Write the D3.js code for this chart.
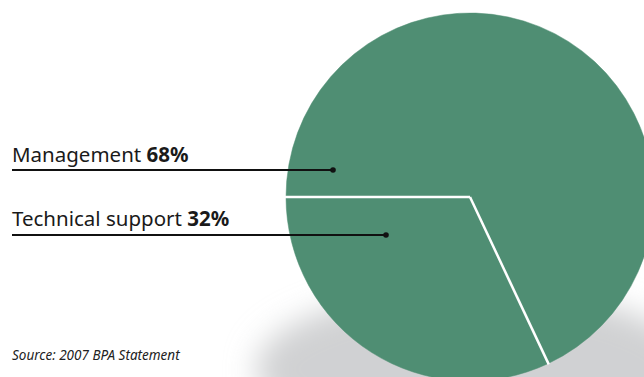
<!DOCTYPE html>
<html>
<head>
<meta charset="utf-8">
<script src="https://cdn.jsdelivr.net/npm/d3@7"></script>
<style>
  body { margin: 0; background: #fff; }
  svg { display: block; font-family: "Noto Sans", Lato, sans-serif; }
</style>
</head>
<body>
<div id="chart"></div>
<script>
const categories = ["Management", "Technical support"];
const shares = [68, 32];
const source = "Source: 2007 BPA Statement";

const width = 644,
    height = 377,
    cx = 470,
    cy = 197,
    radius = 184;

// label layout: text baseline, leader line y and leader end x
const labelLayout = [
  { y: 162, lineY: 170, endX: 333 },
  { y: 226, lineY: 235, endX: 386 }
];

const svg = d3.select("#chart").append("svg")
    .attr("width", width)
    .attr("height", height);

const defs = svg.append("defs");
defs.append("filter")
    .attr("id", "soft")
    .attr("x", "-50%").attr("y", "-50%")
    .attr("width", "200%").attr("height", "200%")
  .append("feGaussianBlur")
    .attr("stdDeviation", 15);

// shadow under the pie
svg.append("ellipse")
    .attr("cx", cx + 5)
    .attr("cy", cy + 172)
    .attr("rx", radius + 35)
    .attr("ry", 80)
    .attr("fill", "#d0d1d3")
    .attr("filter", "url(#soft)");

const pie = d3.pie()
    .sort(null)
    .startAngle(-Math.PI / 2)
    .endAngle(3 * Math.PI / 2);

const arc = d3.arc()
    .innerRadius(0)
    .outerRadius(radius);

const slices = pie(shares);

const g = svg.append("g")
    .attr("transform", "translate(" + cx + "," + cy + ")");

g.selectAll("path")
    .data(slices)
  .enter().append("path")
    .attr("d", arc)
    .attr("fill", "#4f8e73")
    .attr("stroke", "#4f8e73")
    .attr("stroke-width", 0.5);

// white dividers between slices
g.selectAll("line.divider")
    .data(slices)
  .enter().append("line")
    .attr("class", "divider")
    .attr("x1", 0)
    .attr("y1", 0)
    .attr("x2", function(d) { return d3.pointRadial(d.startAngle, radius + 1)[0]; })
    .attr("y2", function(d) { return d3.pointRadial(d.startAngle, radius + 1)[1]; })
    .attr("stroke", "#fff")
    .attr("stroke-width", 2.5);

const labels = svg.selectAll("g.label")
    .data(categories)
  .enter().append("g")
    .attr("class", "label");

labels.append("line")
    .attr("x1", 12)
    .attr("x2", function(d, i) { return labelLayout[i].endX; })
    .attr("y1", function(d, i) { return labelLayout[i].lineY; })
    .attr("y2", function(d, i) { return labelLayout[i].lineY; })
    .attr("stroke", "#111")
    .attr("stroke-width", 2);

labels.append("circle")
    .attr("cx", function(d, i) { return labelLayout[i].endX; })
    .attr("cy", function(d, i) { return labelLayout[i].lineY; })
    .attr("r", 2.8)
    .attr("fill", "#111");

const txt = labels.append("text")
    .attr("x", 12)
    .attr("y", function(d, i) { return labelLayout[i].y; })
    .attr("font-size", 20.5)
    .attr("fill", "#1a1a1a");

txt.append("tspan").text(function(d) { return d + " "; });
txt.append("tspan")
    .attr("font-weight", "bold")
    .text(function(d, i) { return shares[i] + "%"; });

svg.append("text")
    .attr("x", 12)
    .attr("y", 360)
    .attr("font-size", 13.5)
    .attr("font-style", "italic")
    .attr("fill", "#222")
    .text(source);
</script>
</body>
</html>
